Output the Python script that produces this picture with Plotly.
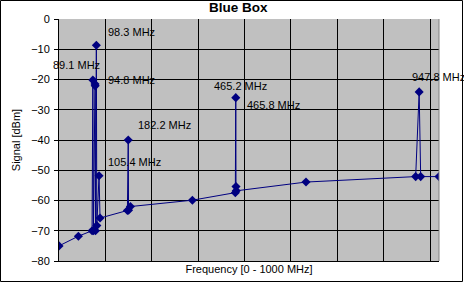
import plotly.graph_objects as go

# ---- data ----
freq_mhz = [0, 51, 87, 89.1, 90.5, 94.8, 95.3, 96, 98.3, 99.5, 105.4, 108,
            180, 182.2, 183, 188, 351, 464, 465.2, 465.8, 466.5,
            650, 938.6, 947.8, 951.8, 1000]
signal_dbm = [-75, -71.8, -70, -20.2, -70, -21.5, -22.1, -70, -8.7, -68.3, -51.8, -65.8,
              -63.3, -40, -63.2, -62, -59.9, -57.4, -26, -55.4, -56.8,
              -53.9, -52.1, -24.1, -52.1, -52.1]
peak_freqs = [89.1, 94.8, 98.3, 105.4, 182.2, 465.2, 465.8, 947.8]
y_ticks = [-80, -70, -60, -50, -40, -30, -20, -10, 0]

# label placement styles (anchor, x shift px, y shift px)
label_style = {
    89.1: ("center", -16, 15),
    94.8: ("left", 10.5, 4.5),
    98.3: ("left", 9.5, 13.5),
    105.4: ("left", 6.5, 14),
    182.2: ("left", 7.5, 15),
    465.2: ("center", 5, 12),
    465.8: ("left", 8.5, 81.5),
    947.8: ("left", -9.5, 15),
}

NAVY = "#000080"
FONT = "Arial, Liberation Sans, sans-serif"
W, H = 464, 283
L, R, T, B = 59, 25, 19, 22
PW, PH = W - L - R, H - T - B

fig = go.Figure()
fig.add_trace(go.Scatter(
    x=freq_mhz, y=signal_dbm, mode="lines+markers",
    line=dict(color=NAVY, width=1),
    marker=dict(symbol="diamond", size=7, color=NAVY),
    hoverinfo="skip", showlegend=False,
))

annotations = []
for f in peak_freqs:
    i = freq_mhz.index(f)
    anchor, dx, dy = label_style[f]
    annotations.append(dict(
        x=f, y=signal_dbm[i], xref="x", yref="y", text=f"{f:g} MHz",
        showarrow=False, xanchor=anchor, yanchor="middle",
        xshift=dx, yshift=dy, font=dict(family=FONT, size=11, color="black"),
    ))

annotations.append(dict(
    x=(238 - L) / PW, y=1, xref="paper", yref="paper", yanchor="bottom",
    yshift=2, text="<b>Blue Box</b>", showarrow=False,
    font=dict(family=FONT, size=13.5, color="black"),
))

shapes = [
    # right border of plot area (gray)
    dict(type="line", xref="paper", yref="paper", x0=1, x1=1, y0=0, y1=1,
         line=dict(color="#808080", width=1)),
    # outer chart frame
    dict(type="rect", xref="paper", yref="paper",
         x0=(0.5 - L) / PW, x1=(462.5 - L) / PW,
         y0=(H - B - 281.5) / PH, y1=(H - B - 0.5) / PH,
         line=dict(color="black", width=1), fillcolor="rgba(0,0,0,0)", layer="above"),
]

fig.update_layout(
    width=W, height=H,
    margin=dict(l=L, r=R, t=T, b=B, pad=0),
    paper_bgcolor="white", plot_bgcolor="#C0C0C0",
    font=dict(family=FONT, size=11, color="black"),
    annotations=annotations, shapes=shapes,
    xaxis=dict(
        range=[0, 1000], tick0=0, dtick=122.1,
        showgrid=True, gridcolor="black", gridwidth=1,
        showticklabels=False, ticks="", zeroline=False,
        showline=True, linecolor="black", linewidth=1,
        title=dict(text="Frequency [0 - 1000 MHz]", standoff=4,
                   font=dict(family=FONT, size=11)),
        automargin=False,
    ),
    yaxis=dict(
        range=[-80, 0], tickvals=y_ticks,
        showgrid=False, zeroline=False,
        ticks="outside", ticklen=4, tickcolor="black",
        showline=True, linecolor="black", linewidth=1,
        ticklabelstandoff=2,
        tickfont=dict(family=FONT, size=11),
        minor=dict(tickvals=y_ticks[1:-1], showgrid=True, gridcolor="black",
                   gridwidth=1, ticks=""),
        title=dict(text="Signal [dBm]", standoff=8,
                   font=dict(family=FONT, size=11)),
        automargin=False,
    ),
)

fig.write_html("out.html")
